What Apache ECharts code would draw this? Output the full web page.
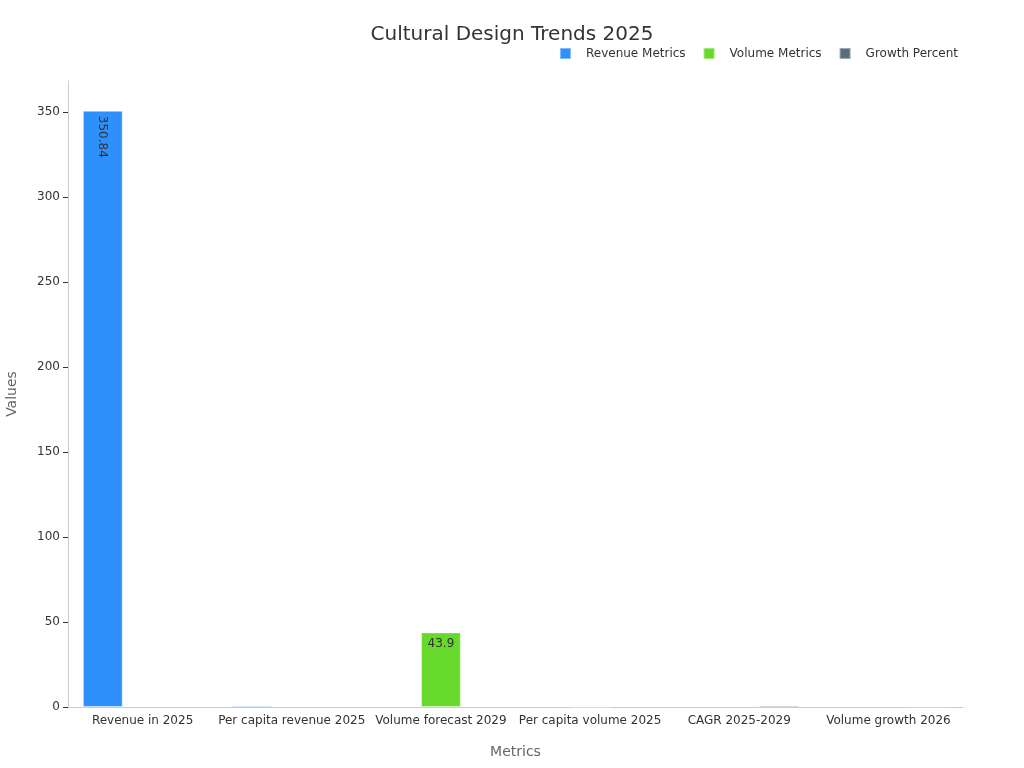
<!DOCTYPE html>
<html>
<head>
<meta charset="utf-8">
<script src="https://cdn.jsdelivr.net/npm/echarts@6/dist/echarts.min.js"></script>
<style>html,body{margin:0;padding:0;background:#fff}#c{width:1024px;height:768px}</style>
</head>
<body>
<div id="c"></div>
<script>
var categories = ['Revenue in 2025', 'Per capita revenue 2025', 'Volume forecast 2029', 'Per capita volume 2025', 'CAGR 2025-2029', 'Volume growth 2026'];
var seriesNames = ['Revenue Metrics', 'Volume Metrics', 'Growth Percent'];
var revenueValues = [350.84, 0.83, null, null, null, null];
var volumeValues = [null, null, 43.9, 0.1, null, null];
var growthValues = [null, null, null, null, 0.9, 0.3];
var colors = ['#2E90FA', '#66D92A', '#5A6E7A'];

var font = 'DejaVu Sans, sans-serif';
function mkData(arr, rotate) {
  return arr.map(function (v) {
    if (v === null) return v;
    var show = v > 10;
    var rot = rotate && v > 100;
    return {
      value: v,
      label: {
        show: show,
        position: 'insideTop',
        rotate: rot ? -90 : 0,
        align: rot ? 'left' : 'center',
        verticalAlign: rot ? 'middle' : 'top',
        offset: rot ? [0, 1] : [0, 0],
        color: '#333', fontSize: 12, fontFamily: font
      }
    };
  });
}
var chart = echarts.init(document.getElementById('c'));
chart.setOption({
  animation: false,
  color: colors,
  title: {
    text: 'Cultural Design Trends 2025', left: 'center', top: 20,
    textStyle: { fontFamily: font, fontSize: 20, fontWeight: 'normal', color: '#333' }
  },
  legend: {
    data: seriesNames, right: 61, top: 42, icon: 'rect', itemWidth: 11, itemHeight: 11, itemGap: 17,
    textStyle: { fontFamily: font, fontSize: 12, color: '#333', padding: [0, 0, 0, 10] }
  },
  grid: { left: 68, right: 61, top: 81, bottom: 61, containLabel: false, outerBoundsMode: 'none' },
  xAxis: {
    type: 'category', data: categories, name: 'Metrics', nameLocation: 'middle', nameGap: 38,
    nameTextStyle: { fontFamily: font, fontSize: 14, color: '#666' },
    axisTick: { alignWithLabel: true, lineStyle: { color: '#333' } },
    axisLine: { lineStyle: { color: '#ccc' } },
    axisLabel: { fontFamily: font, fontSize: 12, color: '#333', interval: 0 }
  },
  yAxis: {
    type: 'value', min: 0, max: 350.84 * 1.05, interval: 50, name: 'Values', nameLocation: 'middle', nameGap: 49,
    nameTextStyle: { fontFamily: font, fontSize: 14, color: '#666' },
    axisLine: { show: true, lineStyle: { color: '#ccc' } },
    axisTick: { show: true, lineStyle: { color: '#333' } },
    splitLine: { show: false },
    axisLabel: { fontFamily: font, fontSize: 12, color: '#333', showMaxLabel: false }
  },
  series: [
    { name: seriesNames[0], type: 'bar', data: mkData(revenueValues, true), barGap: '0%', barCategoryGap: '20%', itemStyle: { borderColor: 'rgba(255,255,255,0.4)', borderWidth: 1 } },
    { name: seriesNames[1], type: 'bar', data: mkData(volumeValues, true), itemStyle: { borderColor: 'rgba(255,255,255,0.4)', borderWidth: 1 } },
    { name: seriesNames[2], type: 'bar', data: mkData(growthValues, true), itemStyle: { borderColor: 'rgba(255,255,255,0.4)', borderWidth: 1 } }
  ]
});
</script>
</body>
</html>
